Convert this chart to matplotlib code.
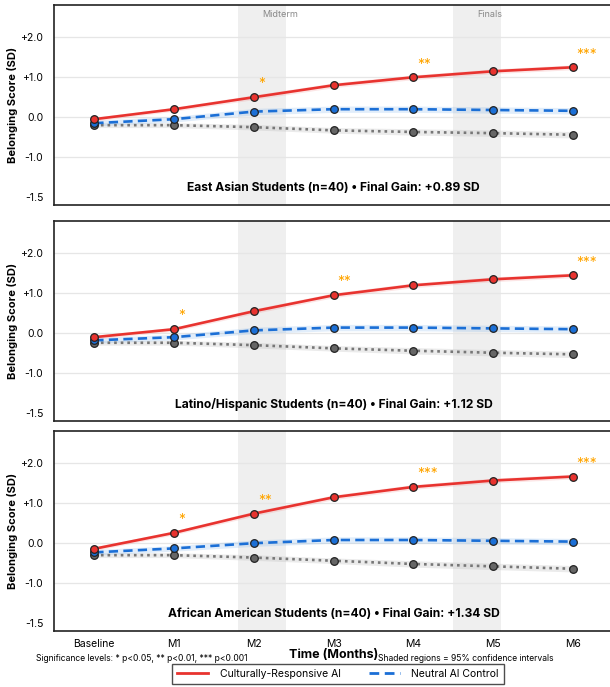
import matplotlib
matplotlib.use("Agg")
import matplotlib.pyplot as plt
from matplotlib.lines import Line2D

plt.rcParams['font.family'] = ['Inter', 'DejaVu Sans']

# --- data ---
months = ['Baseline', 'M1', 'M2', 'M3', 'M4', 'M5', 'M6']

groups = ['East Asian Students (n=40) \u2022 Final Gain: +0.89 SD',
          'Latino/Hispanic Students (n=40) \u2022 Final Gain: +1.12 SD',
          'African American Students (n=40) \u2022 Final Gain: +1.34 SD']

cr_east = [-0.05, 0.20, 0.50, 0.80, 1.00, 1.15, 1.25]
neu_east = [-0.15, -0.05, 0.14, 0.20, 0.20, 0.18, 0.16]
std_east = [-0.20, -0.20, -0.25, -0.33, -0.37, -0.40, -0.44]

cr_lat = [-0.10, 0.10, 0.55, 0.95, 1.20, 1.35, 1.45]
neu_lat = [-0.18, -0.10, 0.07, 0.14, 0.14, 0.12, 0.10]
std_lat = [-0.24, -0.24, -0.30, -0.38, -0.44, -0.49, -0.53]

cr_afr = [-0.14, 0.26, 0.74, 1.15, 1.41, 1.57, 1.67]
neu_afr = [-0.23, -0.13, 0.00, 0.08, 0.08, 0.06, 0.04]
std_afr = [-0.30, -0.30, -0.36, -0.44, -0.52, -0.58, -0.64]

# 95% CI half widths
ci_cr = [0.05, 0.05, 0.06, 0.06, 0.06, 0.06, 0.06]
ci_neu = [0.07, 0.07, 0.08, 0.08, 0.08, 0.08, 0.08]
ci_std = [0.06, 0.06, 0.07, 0.07, 0.08, 0.08, 0.08]

# significance stars (month index, label) per panel
sig_east = [(2, '*'), (4, '**'), (6, '***')]
sig_lat = [(1, '*'), (3, '**'), (6, '***')]
sig_afr = [(1, '*'), (2, '**'), (4, '***'), (6, '***')]

ytick_pos = [-2, -1, 0, 1, 2]
ytick_lab = ['-1.5', '-1.0', '0.0', '+1.0', '+2.0']

panels = [(cr_east, neu_east, std_east, sig_east),
          (cr_lat, neu_lat, std_lat, sig_lat),
          (cr_afr, neu_afr, std_afr, sig_afr)]

RED = '#e8332f'
BLUE = '#1b6fd6'
GRAY = '#666666'

fig = plt.figure(figsize=(6.1, 6.87), dpi=100)
bottoms = [0.7016, 0.3872, 0.0815]
x = list(range(len(months)))

for i, (cr, neu, std, sig) in enumerate(panels):
    ax = fig.add_axes([0.0893, bottoms[i], 0.915, 0.2905])
    ax.axvspan(1.8, 2.4, color='#efefef', zorder=0, lw=0)
    ax.axvspan(4.5, 5.1, color='#efefef', zorder=0, lw=0)

    ax.fill_between(x, [a - b for a, b in zip(std, ci_std)], [a + b for a, b in zip(std, ci_std)],
                    color='#b0b0b0', alpha=0.25, lw=0, zorder=1)
    ax.fill_between(x, [a - b for a, b in zip(neu, ci_neu)], [a + b for a, b in zip(neu, ci_neu)],
                    color='#5aa0e8', alpha=0.18, lw=0, zorder=1)
    ax.fill_between(x, [a - b for a, b in zip(cr, ci_cr)], [a + b for a, b in zip(cr, ci_cr)],
                    color='#f08080', alpha=0.2, lw=0, zorder=1)

    ax.plot(x, std, ls=(0, (1, 1.5)), color='#777777', lw=1.9, marker='o', ms=5.5,
            mfc=GRAY, mec='#222222', mew=0.9, zorder=3)
    ax.plot(x, neu, ls=(0, (3.5, 2)), color=BLUE, lw=1.9, marker='o', ms=5.5,
            mfc=BLUE, mec='#222222', mew=0.9, zorder=4)
    ax.plot(x, cr, ls='-', color=RED, lw=1.9, marker='o', ms=5.5,
            mfc=RED, mec='#222222', mew=0.9, zorder=5)

    for m, s in sig:
        ax.text(m + 0.05, cr[m] + 0.32, s, color='#ffa500', fontsize=10,
                ha='left', va='center', zorder=6)

    ax.text(3, -1.78, groups[i], ha='center', va='center', fontsize=8.7,
            fontweight='bold', zorder=6)

    if i == 0:
        ax.text(2.1, 2.58, 'Midterm', color='#888888', fontsize=6.5, ha='left', va='center')
        ax.text(4.8, 2.58, 'Finals', color='#888888', fontsize=6.5, ha='left', va='center')

    ax.set_xlim(-0.5, 6.5)
    ax.set_ylim(-2.2, 2.8)
    ax.set_yticks(ytick_pos)
    ax.set_yticklabels(ytick_lab, fontsize=7.5)
    ax.set_ylabel('Belonging Score (SD)', fontsize=8, fontweight='bold', labelpad=2)
    ax.grid(axis='y', color='#e6e6e6', lw=0.9, zorder=0.5)
    ax.set_axisbelow(True)
    ax.get_ygridlines()[0].set_visible(False)
    ax.tick_params(axis='y', length=0, pad=8)
    ax.tick_params(axis='x', length=0, pad=6)
    ax.set_xticks(x)
    if i == 2:
        ax.set_xticklabels(months, fontsize=7.5)
        ax.set_xlabel('Time (Months)', fontsize=9, fontweight='bold', labelpad=0)
    else:
        ax.set_xticklabels([])
    for sp in ax.spines.values():
        sp.set_color('#222222')
        sp.set_linewidth(1.2)

fig.text(0.059, 0.041, 'Significance levels: * p<0.05, ** p<0.01, *** p<0.001',
         ha='left', va='center', fontsize=6.2)
fig.text(0.619, 0.041, 'Shaded regions = 95% confidence intervals',
         ha='left', va='center', fontsize=6.2)

handles = [Line2D([0], [0], color=RED, lw=2, ls='-'),
           Line2D([0], [0], color=BLUE, lw=2, ls=(0, (3.5, 2)))]
fig.legend(handles, ['Culturally-Responsive AI', 'Neutral AI Control'], loc='center',
           bbox_to_anchor=(0.554, 0.019), ncol=2, fontsize=7.5, frameon=True,
           fancybox=False, edgecolor='#222222', columnspacing=2.7, handlelength=3,
           handletextpad=1.1, borderpad=0.45)

fig.savefig('out.png', dpi=100)
